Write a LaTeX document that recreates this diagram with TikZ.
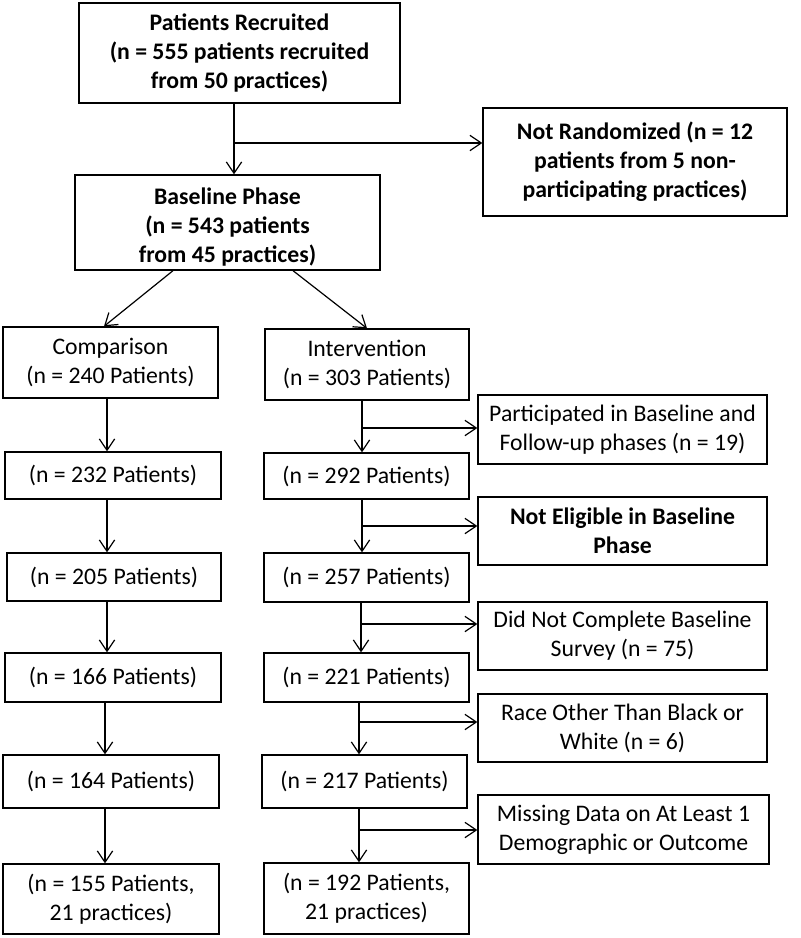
\documentclass[tikz,border=0pt]{standalone}
\usepackage{fontspec}
\setmainfont{Carlito}
\usetikzlibrary{arrows.meta}
\newcommand{\fsz}{\fontsize{17.8}{21.6}\selectfont}
\begin{document}
\begin{tikzpicture}[x=0.75pt,y=-0.75pt,
 box/.style={draw,line width=1pt,align=center,inner sep=0pt,font=\fsz},
 bbox/.style={box,font=\fsz\bfseries},
 arr/.style={-{Straight Barb[length=8.5pt,width=11.5pt]},line width=0.9pt},
 ln/.style={line width=0.9pt}]
\useasboundingbox (0,0) rectangle (800,938);
% top
\node[bbox,minimum width={321*0.75pt},minimum height={100*0.75pt}] (rec) at (239.5,53) {Patients Recruited\\(n = 555 patients recruited\\from 50 practices)};
\node[bbox,minimum width={304*0.75pt},minimum height={108*0.75pt}] (notrand) at (635,162) {Not Randomized (n = 12\\patients from 5 non-\\participating practices)};
\node[bbox,minimum width={305*0.75pt},minimum height={95*0.75pt}] (base) at (227.5,222.5) {\rule{0pt}{19pt}Baseline Phase\\(n = 543 patients\\from 45 practices)};
% comparison column
\node[box,minimum width={215*0.75pt},minimum height={71*0.75pt}] (comp) at (110.5,362.5) {Comparison\\(n = 240 Patients)};
\node[box,minimum width={216*0.75pt},minimum height={47*0.75pt}] (c232) at (113,475.5) {(n = 232 Patients)};
\node[box,minimum width={214*0.75pt},minimum height={48*0.75pt}] (c205) at (114,577) {(n = 205 Patients)};
\node[box,minimum width={216*0.75pt},minimum height={49*0.75pt}] (c166) at (113,677.5) {(n = 166 Patients)};
\node[box,minimum width={216*0.75pt},minimum height={53*0.75pt}] (c164) at (111,781.5) {(n = 164 Patients)};
\node[box,minimum width={216*0.75pt},minimum height={70*0.75pt}] (c155) at (111,899) {(n = 155 Patients,\\21 practices)};
% intervention column
\node[box,minimum width={204*0.75pt},minimum height={71*0.75pt}] (intv) at (367,364.5) {Intervention\\(n = 303 Patients)};
\node[box,minimum width={205*0.75pt},minimum height={46*0.75pt}] (i292) at (366.5,476) {(n = 292 Patients)};
\node[box,minimum width={205*0.75pt},minimum height={49*0.75pt}] (i257) at (366.5,577.5) {(n = 257 Patients)};
\node[box,minimum width={205*0.75pt},minimum height={49*0.75pt}] (i221) at (366.5,677.5) {(n = 221 Patients)};
\node[box,minimum width={205*0.75pt},minimum height={53*0.75pt}] (i217) at (364.5,781.5) {(n = 217 Patients)};
\node[box,minimum width={205*0.75pt},minimum height={71*0.75pt}] (i192) at (366.5,898.5) {(n = 192 Patients,\\21 practices)};
% side boxes
\node[box,minimum width={289*0.75pt},minimum height={69*0.75pt}] (s1) at (622.5,429.5) {Participated in Baseline and\\Follow-up phases (n = 19)};
\node[bbox,minimum width={289*0.75pt},minimum height={68*0.75pt}] (s2) at (622.5,531) {Not Eligible in Baseline\\Phase};
\node[box,minimum width={289*0.75pt},minimum height={68*0.75pt}] (s3) at (622.5,636) {Did Not Complete Baseline\\Survey (n = 75)};
\node[box,minimum width={289*0.75pt},minimum height={68*0.75pt}] (s4) at (622.5,728) {Race Other Than Black or\\White (n = 6)};
\node[box,minimum width={291*0.75pt},minimum height={69*0.75pt}] (s5) at (623.5,829.5) {Missing Data on At Least 1\\Demographic or Outcome};
% coordinates
\coordinate (t) at (234,143);
\coordinate (dl) at (173,0);
\coordinate (dlt) at (104,0);
\coordinate (dr) at (293,0);
\coordinate (drt) at (367,0);
\coordinate (ca) at (107,0);
\coordinate (cb) at (105,0);
\coordinate (b1) at (362,428);
\coordinate (b2) at (362,526);
\coordinate (b3) at (361,624);
\coordinate (b4) at (359,722);
\coordinate (b5) at (359,830);
% connectors
\draw[arr] (rec.south -| t) -- (base.north -| t);
\draw[arr] (t) -- (notrand.west |- t);
\draw[arr] (base.south -| dl) -- (comp.north -| dlt);
\draw[arr] (base.south -| dr) -- (intv.north -| drt);
\draw[arr] (comp.south -| ca) -- (c232.north -| ca);
\draw[arr] (c232.south -| ca) -- (c205.north -| ca);
\draw[arr] (c205.south -| ca) -- (c166.north -| ca);
\draw[arr] (c166.south -| cb) -- (c164.north -| cb);
\draw[arr] (c164.south -| cb) -- (c155.north -| cb);
\draw[arr] (intv.south -| b1) -- (i292.north -| b1);
\draw[arr] (i292.south -| b2) -- (i257.north -| b2);
\draw[arr] (i257.south -| b3) -- (i221.north -| b3);
\draw[arr] (i221.south -| b4) -- (i217.north -| b4);
\draw[arr] (i217.south -| b5) -- (i192.north -| b5);
\draw[arr] (b1) -- (s1.west |- b1);
\draw[arr] (b2) -- (s2.west |- b2);
\draw[arr] (b3) -- (s3.west |- b3);
\draw[arr] (b4) -- (s4.west |- b4);
\draw[arr] (b5) -- (s5.west |- b5);
\end{tikzpicture}
\end{document}
